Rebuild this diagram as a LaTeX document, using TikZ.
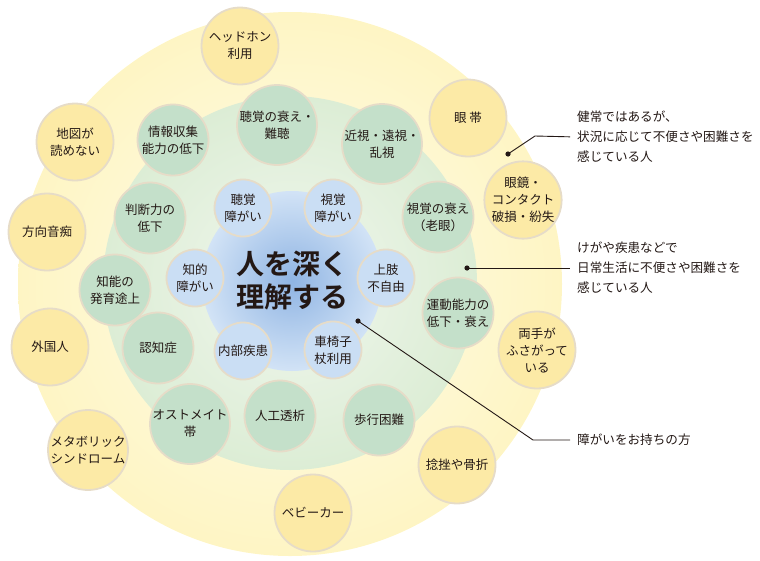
\documentclass[tikz,border=0pt]{standalone}
\usepackage{fontspec}
\setmainfont{Noto Sans CJK JP}[BoldFont={Noto Sans CJK JP Bold}]
\definecolor{OuterIn}{HTML}{FFFDEB}
\definecolor{OuterOut}{HTML}{FEF5C4}
\definecolor{MidIn}{HTML}{F1F7EE}
\definecolor{MidOut}{HTML}{DCEDD5}
\definecolor{CoreIn}{HTML}{8FB4E3}
\definecolor{CoreOut}{HTML}{D2E3F6}
\definecolor{YelClr}{HTML}{FCEAA6}
\definecolor{GrnClr}{HTML}{C4E0CA}
\definecolor{BluClr}{HTML}{CADEF4}
\definecolor{HaloClr}{HTML}{E6DCC8}
\definecolor{TxtClr}{HTML}{231815}

\begin{document}
\begin{tikzpicture}[x=1pt,y=-1pt,
  bubble/.style={circle,draw=HaloClr,line width=1.8pt,inner sep=0pt,align=center,
    text=TxtClr,font=\fontsize{12.5}{17}\selectfont},
  ycirc/.style={bubble,fill=YelClr,minimum size=77pt},
  gcirc/.style={bubble,fill=GrnClr,minimum size=71pt},
  bcirc/.style={bubble,fill=BluClr,minimum size=57pt},
  anno/.style={anchor=west,align=left,inner sep=0pt,text=TxtClr,
    font=\fontsize{12.6}{20}\selectfont}]
\useasboundingbox (0,0) rectangle (760,560);

% rings
\shade[inner color=OuterIn,outer color=OuterOut] (290,284) circle (272);
\shade[inner color=MidIn,outer color=MidOut] (290,283) circle (187);
\shade[inner color=CoreIn,outer color=CoreOut] (292,281) circle (90);

% outer ring
\node[ycirc] (headphone) at (240,46) {ヘッドホン\\利用};
\node[ycirc] (map) at (75,142) {地図が\\読めない};
\node[ycirc] (direction) at (47,232) {方向音痴};
\node[ycirc] (foreign) at (50,347) {外国人};
\node[ycirc] (metabo) at (88,450) {メタボリック\\シンドローム};
\node[ycirc] (stroller) at (313,513) {ベビーカー};
\node[ycirc] (sprain) at (457,465) {捻挫や骨折};
\node[ycirc] (hands) at (537,350) {両手が\\ふさがって\\いる};
\node[ycirc] (glasses) at (523,200) {眼鏡・\\コンタクト\\破損・紛失};
\node[ycirc] (eyepatch) at (468,118) {眼 帯};

% middle ring
\node[gcirc] (hearing) at (277,125) {聴覚の衰え・\\難聴};
\node[gcirc] (info) at (173,140) {情報収集\\能力の低下};
\node[gcirc] (sight) at (382,144) {近視・遠視・\\乱視};
\node[gcirc] (judge) at (150,218) {判断力の\\低下};
\node[gcirc] (presby) at (438,217) {視覚の衰え\\（老眼）};
\node[gcirc] (intel) at (115,290) {知能の\\発育途上};
\node[gcirc] (motor) at (458,313) {運動能力の\\低下・衰え};
\node[gcirc] (dementia) at (158,348) {認知症};
\node[gcirc] (ostomy) at (190,424) {オストメイト\\帯};
\node[gcirc] (dialysis) at (280,416) {人工透析};
\node[gcirc] (walking) at (379,420) {歩行困難};

% inner ring
\node[bcirc] (deaf) at (243,208) {聴覚\\障がい};
\node[bcirc] (blind) at (333,208) {視覚\\障がい};
\node[bcirc] (mental) at (195,278) {知的\\障がい};
\node[bcirc] (limb) at (386,278) {上肢\\不自由};
\node[bcirc] (internal) at (243,351) {内部疾患};
\node[bcirc] (chair) at (333,350) {車椅子\\杖利用};

\node[align=center,text=TxtClr,font=\fontsize{28}{33}\bfseries] (core) at (292,281) {人を深く\\理解する};

% callouts
\coordinate (d1) at (508,154);
\coordinate (b1) at (535,136);
\coordinate (d2) at (467,268);
\coordinate (d3) at (358,321);
\coordinate (b3) at (533,440);
\node[anno] (ann1) at (577,137) {健常ではあるが、\\状況に応じて不便さや困難さを\\感じている人};
\node[anno] (ann2) at (577,268) {けがや疾患などで\\日常生活に不便さや困難さを\\感じている人};
\node[anno] (ann3) at (577,440) {障がいをお持ちの方};

\draw[TxtClr,line width=.9pt,shorten >=7pt] (d1) -- (b1) -- (ann1.west);
\draw[TxtClr,line width=.9pt,shorten >=7pt] (d2) -- (ann2.west);
\draw[TxtClr,line width=.9pt,shorten >=7pt] (d3) -- (b3) -- (ann3.west);
\foreach \d in {d1,d2,d3}
  \fill[TxtClr] (\d) circle (2.6);

\end{tikzpicture}
\end{document}
